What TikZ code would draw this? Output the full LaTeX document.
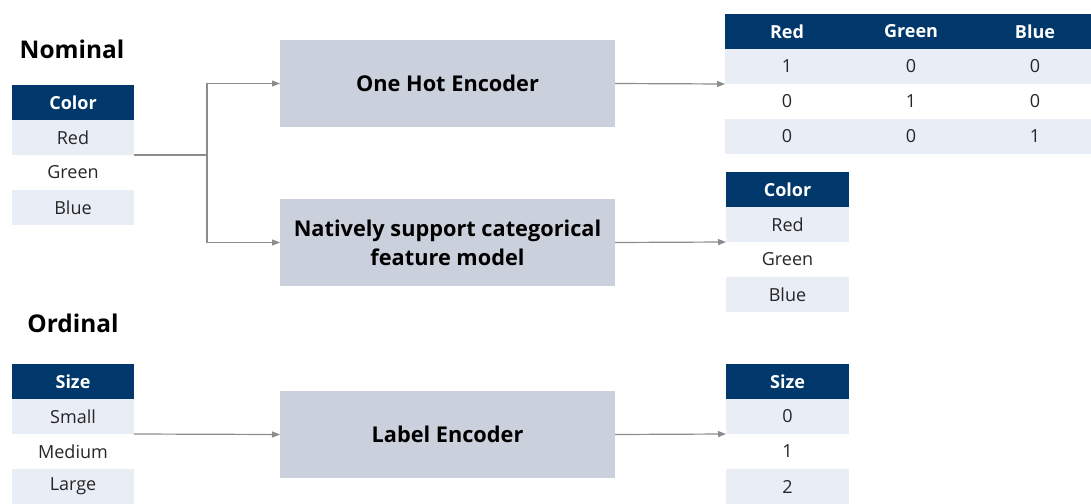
\documentclass[tikz,border=0pt]{standalone}
\usepackage{fontspec}
\setmainfont{Open Sans}
\usetikzlibrary{arrows.meta}
\definecolor{navy}{RGB}{0,56,107}
\definecolor{rowtint}{RGB}{233,237,246}
\definecolor{boxfill}{RGB}{203,209,220}
\definecolor{wire}{RGB}{140,140,140}
\tikzset{
  cellbase/.style={inner sep=0pt, outer sep=0pt, minimum height=35*0.75pt,
    anchor=north west, font=\fontsize{13.5}{16}\selectfont, text=black!85},
  hdr/.style={cellbase, fill=navy, text=white, font=\bfseries\fontsize{13.5}{16}\selectfont},
  tint/.style={cellbase, fill=rowtint},
  plain/.style={cellbase},
  procbox/.style={fill=boxfill, minimum width=335*0.75pt, minimum height=87*0.75pt,
    inner sep=0pt, outer sep=0pt, align=center, font=\bfseries\fontsize{16.3}{21.75}\selectfont},
  heading/.style={font=\bfseries\fontsize{18.3}{22}\selectfont},
  flow/.style={draw=wire, line width=0.9pt, -{Triangle[length=6pt,width=4.5pt]}},
  link/.style={draw=wire, line width=0.9pt},
}
\begin{document}
\begin{tikzpicture}[x=0.75pt, y=-0.75pt]
  \useasboundingbox (0,0) rectangle (1091,503);

  % section headings
  \node[heading] (nominal) at (72,49) {Nominal};
  \node[heading] (ordinal) at (73,323) {Ordinal};

  % nominal input column
  \begin{scope}[every node/.append style={minimum width=122*0.75pt}]
    \node[hdr]  (lcH) at (12,85)  {Color};
    \node[tint] (lcR) at (12,120) {Red};
    \node[plain](lcG) at (12,155) {Green};
    \node[tint] (lcB) at (12,190) {Blue};
  \end{scope}

  % ordinal input column
  \begin{scope}[every node/.append style={minimum width=122*0.75pt}]
    \node[hdr]  (lsH) at (12,364) {Size};
    \node[tint] (lsS) at (12,399) {Small};
    \node[plain](lsM) at (12,434) {Medium};
    \node[tint] (lsL) at (12,469) {Large};
  \end{scope}

  % processing steps
  \node[procbox] (ohe) at (447.5,83.5)  {One Hot Encoder};
  \node[procbox] (nat) at (447.5,242.5) {Natively support categorical\\feature model};
  \node[procbox] (lab) at (447.5,434.5) {Label Encoder};

  % one-hot output table
  \begin{scope}[every node/.append style={minimum width=124*0.75pt}]
    \foreach \c/\lab in {1/Red,2/Green,3/Blue}{
      \node[hdr] (oh-0-\c) at ({725+124*(\c-1)},14) {\lab};
      \foreach \r/\sty in {1/tint,2/plain,3/tint}{
        \node[\sty] (oh-\r-\c) at ({725+124*(\c-1)},{14+35*\r})
          {\ifnum\r=\c\relax 1\else 0\fi};
      }
    }
  \end{scope}

  % native categorical output column
  \begin{scope}[every node/.append style={minimum width=123*0.75pt}]
    \node[hdr]  (mcH) at (726,172) {Color};
    \node[tint] (mcR) at (726,207) {Red};
    \node[plain](mcG) at (726,242) {Green};
    \node[tint] (mcB) at (726,277) {Blue};
  \end{scope}

  % label-encoded output column
  \begin{scope}[every node/.append style={minimum width=123*0.75pt}]
    \node[hdr]  (rsH) at (726,364) {Size};
    \node[tint] (rs0) at (726,399) {0};
    \node[plain](rs1) at (726,434) {1};
    \node[tint] (rs2) at (726,469) {2};
  \end{scope}

  % connectors
  \coordinate (fork) at (207,155);
  \draw[link] (lcR.south east) -- (fork);
  \draw[flow] (fork) |- (ohe.west);
  \draw[flow] (fork) |- (nat.west);
  \draw[flow] (ohe.east) -- (oh-1-1.south west);
  \draw[flow] (nat.east) -- (mcR.south west);
  \draw[flow] (lsS.south east) -- (lab.west);
  \draw[flow] (lab.east) -- (rs0.south west);
\end{tikzpicture}
\end{document}
